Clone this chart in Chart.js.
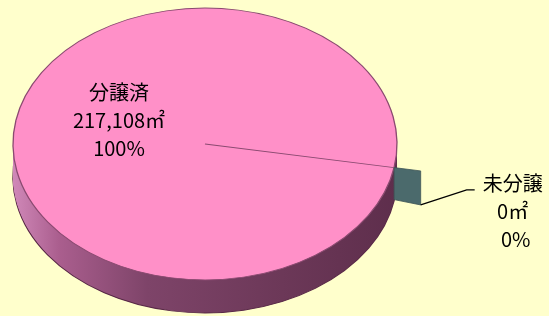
<!DOCTYPE html>
<html>
<head>
<meta charset="utf-8">
<script src="https://cdn.jsdelivr.net/npm/chart.js@4/dist/chart.umd.min.js"></script>
<style>
  html, body { margin: 0; padding: 0; background: #ffffcc; }
  #wrap { width: 549px; height: 316px; position: relative; }
</style>
</head>
<body>
<div id="wrap"><canvas id="c"></canvas></div>
<script>
const categories = ['分譲済', '未分譲'];
const areas = [217108, 0];
const sliceColors = ['#ff90c8', '#4b6a6c'];
const unit = '㎡';

const ELLIPSE = 0.708;   // vertical squash of the 3D view
const DEPTH = 33;        // thickness of the pie

function squash(ctx, cx, cy) {
  ctx.translate(cx, cy);
  ctx.scale(1, ELLIPSE);
  ctx.translate(-cx, -cy);
}

function cloneArc(arc, opts) {
  const c = Object.assign(Object.create(Object.getPrototypeOf(arc)), arc);
  c.options = Object.assign({}, arc.options, opts);
  return c;
}

function blockPoints(chart) {
  const meta = chart.getDatasetMeta(0);
  const a = meta.data[1];
  const base = meta.data[0];
  const cx = base.x, cy = base.y;
  const ang = a.startAngle;
  const r = a.outerRadius;
  const off = a.options.offset || 0;
  const map = (rr) => ({ x: cx + Math.cos(ang) * rr, y: cy + Math.sin(ang) * rr * ELLIPSE });
  const p1 = map(r), p2 = map(r + off);
  return { p1, p2, p3: { x: p2.x, y: p2.y + DEPTH + 1 }, p4: { x: p1.x, y: p1.y + DEPTH - 1 } };
}

const pie3d = {
  id: 'pie3d',
  beforeDatasetsDraw(chart) {
    const ctx = chart.ctx;
    const meta = chart.getDatasetMeta(0);
    const arc = meta.data[0];
    const r = arc.outerRadius;
    const g = ctx.createLinearGradient(arc.x - r, 0, arc.x + r, 0);
    g.addColorStop(0, '#d088b8');
    g.addColorStop(0.12, '#aa5e8e');
    g.addColorStop(0.35, '#7e4469');
    g.addColorStop(0.7, '#6c3858');
    g.addColorStop(1, '#5e2e4c');
    for (let d = DEPTH; d >= 1; d--) {
      ctx.save();
      ctx.translate(0, d);
      squash(ctx, arc.x, arc.y);
      const bottom = d === DEPTH;
      cloneArc(arc, {
        backgroundColor: g,
        borderWidth: bottom ? 1.4 : 0,
        borderColor: '#5a2a48',
        offset: 0
      }).draw(ctx);
      ctx.restore();
    }
    ctx.save();
    squash(ctx, arc.x, arc.y);
  },
  afterDatasetsDraw(chart) {
    const ctx = chart.ctx;
    ctx.restore();
    // exploded zero slice drawn as its side wall
    const b = blockPoints(chart);
    ctx.save();
    ctx.beginPath();
    ctx.moveTo(b.p1.x, b.p1.y);
    ctx.lineTo(b.p2.x, b.p2.y);
    ctx.lineTo(b.p3.x, b.p3.y);
    ctx.lineTo(b.p4.x, b.p4.y);
    ctx.closePath();
    ctx.fillStyle = sliceColors[1];
    ctx.fill();
    ctx.strokeStyle = '#3e5456';
    ctx.lineWidth = 0.8;
    ctx.stroke();
    ctx.restore();
  },
  afterDraw(chart) {
    const ctx = chart.ctx;
    const meta = chart.getDatasetMeta(0);
    const arc = meta.data[0];
    const total = areas.reduce((s, v) => s + v, 0);
    const lines = (i) => [
      categories[i],
      areas[i].toLocaleString('en-US') + unit,
      Math.round(areas[i] / total * 100) + '%'
    ];
    ctx.save();
    ctx.fillStyle = '#000';
    ctx.textAlign = 'center';
    ctx.textBaseline = 'middle';
    ctx.font = '20px "Noto Sans CJK JP"';
    // label for sold part
    const l0 = lines(0);
    const x0 = arc.x - 86, y0 = arc.y - 52;
    l0.forEach((t, k) => ctx.fillText(t, x0, y0 + k * 28));
    // leader and label for unsold part
    const b = blockPoints(chart);
    ctx.beginPath();
    ctx.moveTo(b.p3.x, b.p3.y);
    ctx.lineTo(b.p3.x + 46, b.p3.y - 15);
    ctx.lineTo(b.p3.x + 54, b.p3.y - 15);
    ctx.strokeStyle = '#000';
    ctx.lineWidth = 1.3;
    ctx.stroke();
    const l1 = lines(1);
    const x1 = b.p3.x + 92, y1 = b.p3.y - 22;
    l1.forEach((t, k) => ctx.fillText(t, x1 + (k === 2 ? 3 : 0), y1 + k * 28));
    ctx.restore();
  }
};

new Chart(document.getElementById('c'), {
  type: 'pie',
  data: {
    labels: categories,
    datasets: [{
      data: areas,
      backgroundColor: sliceColors,
      borderColor: '#8a4a70',
      borderWidth: 1.3,
      offset: [0, 27]
    }]
  },
  options: {
    responsive: true,
    maintainAspectRatio: false,
    animation: false,
    events: [],
    rotation: 100,
    radius: 192,
    layout: { padding: { left: 0, right: 139, top: 0, bottom: 28 } },
    plugins: { legend: { display: false }, tooltip: { enabled: false } }
  },
  plugins: [pie3d]
});
</script>
</body>
</html>
